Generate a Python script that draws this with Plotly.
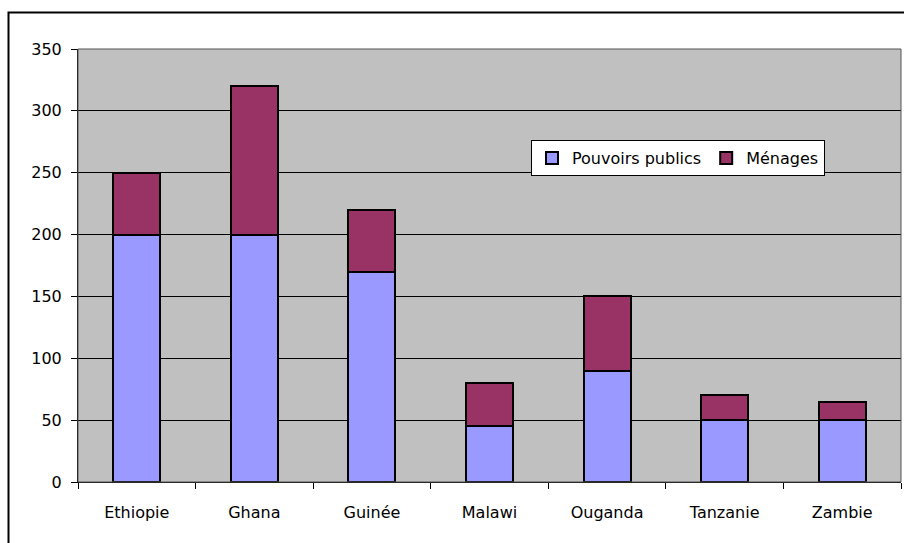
import plotly.graph_objects as go

countries = ["Ethiopie", "Ghana", "Guinée", "Malawi", "Ouganda", "Tanzanie", "Zambie"]
pouvoirs_publics = [200, 200, 170, 45, 90, 50, 50]
menages = [50, 120, 50, 35, 60, 20, 15]

fig = go.Figure()
fig.add_trace(go.Bar(x=countries, y=pouvoirs_publics, name="Pouvoirs publics",
                     marker=dict(color="#9999FF", line=dict(color="black", width=2))))
fig.add_trace(go.Bar(x=countries, y=menages, name="Ménages",
                     marker=dict(color="#993366", line=dict(color="black", width=2))))

L, T, R, B = 78, 49, 901, 482
W, H = 904, 543
FONT = "DejaVu Sans, Liberation Sans, Arial, sans-serif"
fig.update_layout(
    barmode="stack",
    bargap=0.6,
    width=W, height=H,
    margin=dict(l=L, r=W - R, t=T, b=H - B, pad=0),
    paper_bgcolor="white",
    plot_bgcolor="#C0C0C0",
    font=dict(family=FONT, size=16, color="black"),
    showlegend=True,
    legend=dict(orientation="h", x=(531 - L) / (R - L), y=(B - 140) / (B - T),
                xanchor="left", yanchor="top", bgcolor="white",
                bordercolor="black", borderwidth=1,
                font=dict(family=FONT, size=16), itemwidth=30, traceorder="normal",
                tracegroupgap=0),
    xaxis=dict(type="category", tickson="boundaries", ticks="outside", ticklen=6,
               tickcolor="black", showline=True, linecolor="black", linewidth=1,
               showgrid=False, mirror=False, tickfont=dict(family=FONT, size=16),
               ticklabelstandoff=16),
    yaxis=dict(range=[0, 350], dtick=50, ticks="outside", ticklen=6, tickcolor="black",
               showline=True, linecolor="black", linewidth=1, showgrid=True,
               gridcolor="black", gridwidth=1, zeroline=False,
               tickfont=dict(family=FONT, size=16), mirror=False,
               ticklabelstandoff=6),
    shapes=[
        dict(type="rect", xref="paper", yref="paper", x0=0, x1=1, y0=0, y1=1,
             line=dict(color="#555555", width=1), fillcolor="rgba(0,0,0,0)", layer="above"),
        dict(type="rect", xref="paper", yref="paper",
             x0=(8.5 - L) / (R - L), x1=(910 - L) / (R - L),
             y0=(B - 550) / (B - T), y1=(B - 12.5) / (B - T),
             line=dict(color="black", width=2), fillcolor="rgba(0,0,0,0)"),
    ],
)

fig.write_html("out.html", config={"displayModeBar": False},
               post_script="document.body.style.margin='0px';")
